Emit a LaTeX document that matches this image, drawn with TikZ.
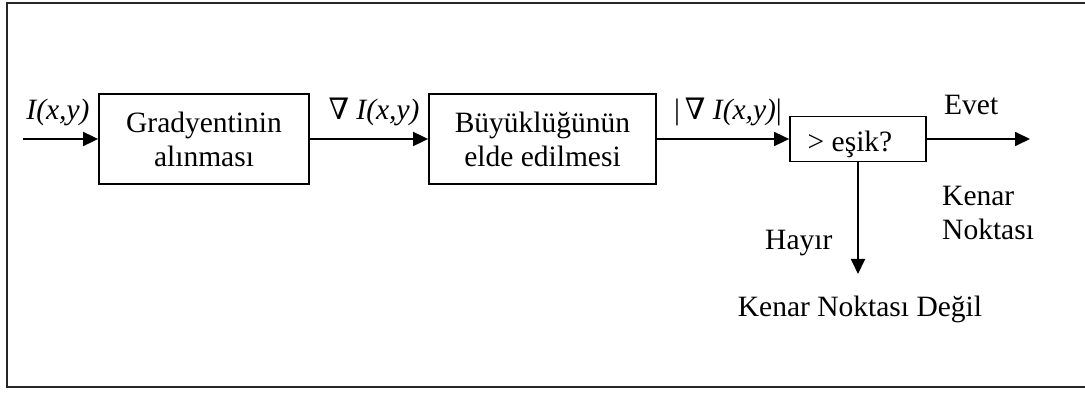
\documentclass[tikz,border=0pt]{standalone}
\usepackage{fontspec}
\setmainfont{Liberation Serif}
\newfontfamily\nablafont{DejaVu Serif}
\usetikzlibrary{arrows.meta}
\newcommand{\grad}{{\nablafont ∇}}
\tikzset{
  txt/.style={font=\fontsize{29.5}{34}\selectfont, inner sep=0pt},
  blockbox/.style={txt, draw, line width=1.8pt, align=center, inner sep=0pt},
  flow/.style={line width=1.8pt, -{Triangle[length=15pt,width=14pt]}},
  frame/.style={line width=2.4pt, draw=black!85}
}
\begin{document}
\begin{tikzpicture}[x=1pt,y=-1pt]
\useasboundingbox (0,0) rectangle (1085,395);
% outer frame (open on the right)
\draw[frame] (1085,3) -- (7,3) -- (7,387) -- (1085,387);

% processing blocks
\node[blockbox, minimum width=210pt, minimum height=90pt] (b1) at (204,139) {Gradyentinin\\alınması};
\node[blockbox, minimum width=227pt, minimum height=90pt] (b2) at (542.5,139) {Büyüklüğünün\\elde edilmesi};
\node[blockbox, minimum width=136pt, minimum height=45pt, text height=25pt, text depth=0pt] (b3) at (858,139) {\hspace*{-16pt}> eşik?};

% free ends of connectors
\coordinate (src) at (23,139);
\coordinate (yes) at (1030,139);
\coordinate (no) at (858,274);

% connectors
\draw[flow] (src) -- (b1.west);
\draw[flow] (b1.east) -- (b2.west);
\draw[flow] (b2.east) -- (b3.west);
\draw[flow] (b3.east) -- (yes);
\draw[flow] (b3.south) -- (no);

% signal labels
\node[txt, anchor=base] (l1) at (58,120) {\textit{I(x,y)}};
\node[txt, anchor=base] (l2) at (374,120) {\grad\ \textit{I(x,y)}};
\node[txt, anchor=base] (l3) at (728,120) {|\,\grad\ \textit{I(x,y)}|};
\node[txt, anchor=base west] (evet) at (944,115) {Evet};
\node[txt, anchor=base west] (hayir) at (765,250) {Hayır};
\node[txt, anchor=base west, align=left] (kenar) at (942,240) {Kenar\\Noktası};
\node[txt, anchor=base] (degil) at (860,317) {Kenar Noktası Değil};
\end{tikzpicture}
\end{document}
